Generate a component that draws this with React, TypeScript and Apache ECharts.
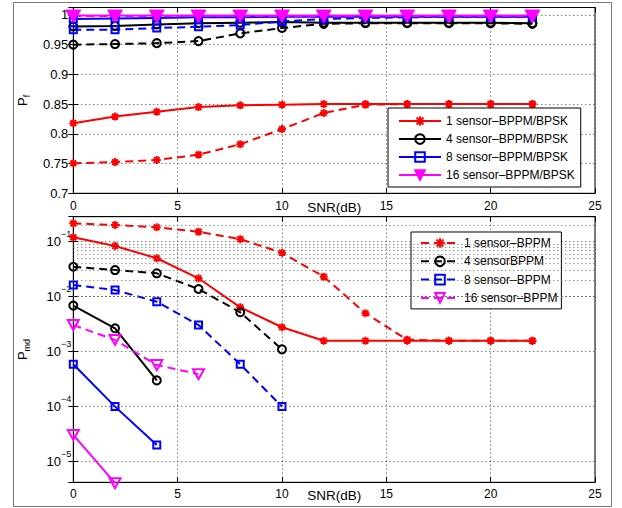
import React, { useEffect, useRef } from 'react';
import * as echarts from 'echarts';

const FONT = '"Liberation Sans", Arial, Helvetica, sans-serif';

// ---------- Top plot: P_f vs SNR ----------
const snrTop = [0, 2, 4, 6, 8, 10, 12, 14, 16, 18, 20, 22];
const pf1Solid = [0.818, 0.829, 0.837, 0.845, 0.848, 0.849, 0.85, 0.85, 0.85, 0.85, 0.85, 0.85];
const pf1Dashed = [0.7505, 0.7525, 0.756, 0.765, 0.7825, 0.808, 0.835, 0.849, 0.85, 0.85, 0.85, 0.85];
const pf4Solid = [0.9805, 0.9815, 0.984, 0.986, 0.987, 0.988, 0.987, 0.987, 0.987, 0.987, 0.987, 0.986];
const pf4Dashed = [0.95, 0.951, 0.9525, 0.956, 0.969, 0.978, 0.985, 0.986, 0.986, 0.986, 0.986, 0.985];
const pf8Solid = [0.993, 0.994, 0.995, 0.996, 0.996, 0.997, 0.997, 0.997, 0.997, 0.997, 0.997, 0.997];
const pf8Dashed = [0.975, 0.975, 0.978, 0.98, 0.983, 0.989, 0.993, 0.995, 0.996, 0.997, 0.997, 0.997];
const pf16Solid = [0.999, 0.999, 0.999, 0.999, 0.999, 0.999, 0.999, 0.999, 0.999, 0.999, 0.999, 0.999];
const pf16Dashed = [0.998, 0.998, 0.998, 0.998, 0.998, 0.998, 0.998, 0.998, 0.998, 0.998, 0.998, 0.998];

// ---------- Bottom plot: P_md vs SNR ----------
const snr1 = [0, 2, 4, 6, 8, 10, 12, 14, 16, 18, 20, 22];
const pmd1Dashed = [0.216, 0.201, 0.183, 0.152, 0.111, 0.063, 0.0231, 0.005, 0.00165, 0.00158, 0.00158, 0.00158];
const pmd1Solid = [0.12, 0.0835, 0.05, 0.0216, 0.0064, 0.00278, 0.00158, 0.00158, 0.00158, 0.00158, 0.00158, 0.00158];
const snr4Dashed = [0, 2, 4, 6, 8, 10];
const pmd4Dashed = [0.035, 0.0305, 0.0266, 0.0138, 0.0052, 0.0011];
const snr4Solid = [0, 2, 4];
const pmd4Solid = [0.00687, 0.00266, 0.0003];
const snr8Dashed = [0, 2, 4, 6, 8, 10];
const pmd8Dashed = [0.0163, 0.0132, 0.0081, 0.00305, 0.00059, 0.0001];
const snr8Solid = [0, 2, 4];
const pmd8Solid = [0.00059, 0.0001, 0.00002];
const snr16Dashed = [0, 2, 4, 6];
const pmd16Dashed = [0.00305, 0.00163, 0.00057, 0.00039];
const snr16Solid = [0, 2];
const pmd16Solid = [0.0000305, 0.00000405];

const topLegend = ['1 sensor–BPPM/BPSK', '4 sensor–BPPM/BPSK', '8 sensor–BPPM/BPSK', '16 sensor–BPPM/BPSK'];
const bottomLegend = ['1 sensor–BPPM', '4 sensorBPPM', '8 sensor–BPPM', '16 sensor–BPPM'];

const xTicks = { min: 0, max: 25, interval: 5 };
const pfRange = { min: 0.7, max: 1.0125, interval: 0.05 };
const pmdRange = { min: 4.2e-6, max: 0.285 };

const RED = '#ff0000';
const BLACK = '#000000';
const BLUE = '#0000ff';
const MAGENTA = '#ff00ff';
const ASTERISK = 'path://M0,-5L0,5M-5,0L5,0M-3.6,-3.6L3.6,3.6M-3.6,3.6L3.6,-3.6';
const TRI_DOWN = 'path://M0,0L10,0L5,8.7Z';
const DASH = [8, 5];

function mk(name: string, xs: number[], ys: number[], color: string, symbol: string, size: any, dashed: boolean, idx: number, extra: any = {}, fill = 'rgba(0,0,0,0)') {
  return {
    type: 'line',
    name,
    xAxisIndex: idx,
    yAxisIndex: idx,
    data: xs.map((x, i) => [x, ys[i]]),
    symbol,
    symbolSize: size,
    showSymbol: true,
    showAllSymbol: true,
    clip: false,
    lineStyle: { color, width: 2, type: dashed ? DASH : 'solid' },
    itemStyle: { color: fill, borderColor: color, borderWidth: 2 },
    emphasis: { disabled: true },
    ...extra,
  };
}

const minorLogVals: number[] = [];
for (let k = -6; k <= -1; k++) {
  for (let m = 2; m <= 9; m++) {
    const v = m * Math.pow(10, k);
    if (v > pmdRange.min && v < pmdRange.max) minorLogVals.push(v);
  }
}

const gridTop = { left: 73.3, top: 7.5, width: 521.7, height: 185.8 };
const gridBot = { left: 73.3, top: 216.7, width: 521.7, height: 265.6 };

export default function App() {
  const ref = useRef<HTMLDivElement>(null);
  useEffect(() => {
    if (!ref.current) return;
    const chart = echarts.init(ref.current, null, { renderer: 'svg' });
    const dotted = { type: [1, 3], color: '#444', width: 1 };
    const tick = { show: true, inside: true, length: 5, lineStyle: { color: '#000' } };
    const axLine = { show: true, lineStyle: { color: '#000', width: 1 } };

    const xBase = (grid: number, labelMargin: number) => ({
      type: 'value', gridIndex: grid, ...xTicks,
      axisLine: axLine, axisTick: tick,
      axisLabel: { fontFamily: FONT, fontSize: 12, color: '#000', margin: labelMargin },
      splitLine: { show: true, lineStyle: dotted },
      name: 'SNR(dB)', nameLocation: 'middle', nameGap: labelMargin, nameMoveOverlap: false,
      nameTextStyle: { fontFamily: FONT, fontSize: 13.5, color: '#000' },
    });
    const xMirror = (grid: number) => ({
      type: 'value', gridIndex: grid, position: 'top', ...xTicks,
      axisLine: axLine, axisTick: tick, axisLabel: { show: false }, splitLine: { show: false },
    });

    const option: any = {
      animation: false,
      backgroundColor: '#fff',
      grid: [
        { ...gridTop, show: true, borderColor: '#000', borderWidth: 1, backgroundColor: '#fff' },
        { ...gridBot, show: true, borderColor: '#000', borderWidth: 1, backgroundColor: '#fff' },
      ],
      xAxis: [xBase(0, 7), xMirror(0), xBase(1, 6), xMirror(1)],
      yAxis: [
        {
          type: 'value', gridIndex: 0, ...pfRange,
          axisLine: axLine, axisTick: tick,
          axisLabel: {
            fontFamily: FONT, fontSize: 13, color: '#000', margin: 5,
            formatter: (v: number) => {
              const r = v / pfRange.interval;
              if (Math.abs(r - Math.round(r)) > 1e-6) return '';
              return String(Number(v.toFixed(2)));
            },
          },
          splitLine: { show: true, lineStyle: dotted },
          name: '{p|P}{s|f}', nameLocation: 'middle', nameRotate: 90, nameGap: 42, nameMoveOverlap: false,
          nameTextStyle: {
            fontFamily: FONT, color: '#000',
            rich: {
              p: { fontFamily: FONT, fontSize: 13, color: '#000', lineHeight: 18, verticalAlign: 'middle' },
              s: { fontFamily: FONT, fontSize: 9, color: '#000', lineHeight: 18, verticalAlign: 'bottom' },
            },
          },
        },
        {
          type: 'value', gridIndex: 0, position: 'right', ...pfRange,
          axisLine: axLine, axisTick: tick, axisLabel: { show: false }, splitLine: { show: false },
        },
        {
          type: 'log', logBase: 10, gridIndex: 1, ...pmdRange,
          axisLine: axLine, axisTick: tick,
          axisLabel: {
            color: '#000', margin: 2,
            formatter: (v: number) => {
              const e = Math.log10(v);
              if (Math.abs(e - Math.round(e)) > 1e-6) return '';
              const n = Math.round(e);
              return '{b|10}{s|' + (n < 0 ? '−' : '') + Math.abs(n) + '}';
            },
            rich: {
              b: { fontFamily: FONT, fontSize: 13, color: '#000', lineHeight: 24, verticalAlign: 'middle' },
              s: { fontFamily: FONT, fontSize: 9, color: '#000', lineHeight: 24, verticalAlign: 'top' },
            },
          },
          splitLine: { show: true, lineStyle: dotted },
          name: '{p|P}{s|md}', nameLocation: 'middle', nameRotate: 90, nameGap: 42, nameMoveOverlap: false,
          nameTextStyle: {
            fontFamily: FONT, color: '#000',
            rich: {
              p: { fontFamily: FONT, fontSize: 13, color: '#000', lineHeight: 18, verticalAlign: 'middle' },
              s: { fontFamily: FONT, fontSize: 9, color: '#000', lineHeight: 18, verticalAlign: 'bottom' },
            },
          },
        },
        {
          type: 'log', logBase: 10, gridIndex: 1, position: 'right', ...pmdRange,
          axisLine: axLine, axisTick: tick, axisLabel: { show: false }, splitLine: { show: false },
        },
      ],
      legend: [
        {
          data: topLegend, orient: 'vertical', left: 388, top: 108,
          padding: [7, 6, 6, 10], itemGap: 6, itemWidth: 42, itemHeight: 12,
          backgroundColor: '#fff', borderColor: '#000', borderWidth: 1,
          selectedMode: false,
          textStyle: { fontFamily: FONT, fontSize: 12, color: '#000', lineHeight: 12 },
        },
        {
          data: bottomLegend, orient: 'vertical', left: 411, top: 232,
          padding: [5, 4, 5, 9], itemGap: 6.3, itemWidth: 38, itemHeight: 12,
          backgroundColor: '#fff', borderColor: '#000', borderWidth: 1,
          selectedMode: false,
          textStyle: { fontFamily: FONT, fontSize: 12, color: '#000', lineHeight: 12 },
        },
      ],
      series: [
        mk('1 sensor–BPPM/BPSK', snrTop, pf1Solid, RED, ASTERISK, 8, false, 0),
        mk('1 sensor (dashed)', snrTop, pf1Dashed, RED, ASTERISK, 8, true, 0),
        mk('4 sensor–BPPM/BPSK', snrTop, pf4Solid, BLACK, 'circle', 8, false, 0),
        mk('4 sensor (dashed)', snrTop, pf4Dashed, BLACK, 'circle', 8, true, 0),
        mk('8 sensor–BPPM/BPSK', snrTop, pf8Solid, BLUE, 'rect', 7, false, 0),
        mk('8 sensor (dashed)', snrTop, pf8Dashed, BLUE, 'rect', 7, true, 0),
        mk('16 sensor–BPPM/BPSK', snrTop, pf16Solid, MAGENTA, TRI_DOWN, [12, 10], false, 0, {}, MAGENTA),
        mk('16 sensor (dashed)', snrTop, pf16Dashed, MAGENTA, TRI_DOWN, [12, 10], true, 0, {}, MAGENTA),

        mk('1 sensor–BPPM', snr1, pmd1Dashed, RED, ASTERISK, 8, true, 2, {
          markLine: {
            silent: true, symbol: ['none', 'none'], label: { show: false },
            lineStyle: { type: [1, 3], color: '#666', width: 1 },
            emphasis: { disabled: true },
            data: minorLogVals.map((v) => ({ yAxis: v })),
          },
        }),
        mk('1 sensor (solid)', snr1, pmd1Solid, RED, ASTERISK, 8, false, 2),
        mk('4 sensorBPPM', snr4Dashed, pmd4Dashed, BLACK, 'circle', 8, true, 2),
        mk('4 sensor (solid)', snr4Solid, pmd4Solid, BLACK, 'circle', 8, false, 2),
        mk('8 sensor–BPPM', snr8Dashed, pmd8Dashed, BLUE, 'rect', 7, true, 2),
        mk('8 sensor (solid)', snr8Solid, pmd8Solid, BLUE, 'rect', 7, false, 2),
        mk('16 sensor–BPPM', snr16Dashed, pmd16Dashed, MAGENTA, TRI_DOWN, [11, 10], true, 2),
        mk('16 sensor (solid)', snr16Solid, pmd16Solid, MAGENTA, TRI_DOWN, [11, 10], false, 2),
      ],
      graphic: [
        {
          type: 'rect', silent: true, z: 100,
          shape: { x: 13.5, y: 2.5, width: 598, height: 504 },
          style: { fill: 'none', stroke: '#777', lineWidth: 1 },
        },
      ],
    };
    chart.setOption(option);
    return () => chart.dispose();
  }, []);
  return <div ref={ref} style={{ position: 'fixed', left: 0, top: 0, width: 622, height: 508 }} />;
}
